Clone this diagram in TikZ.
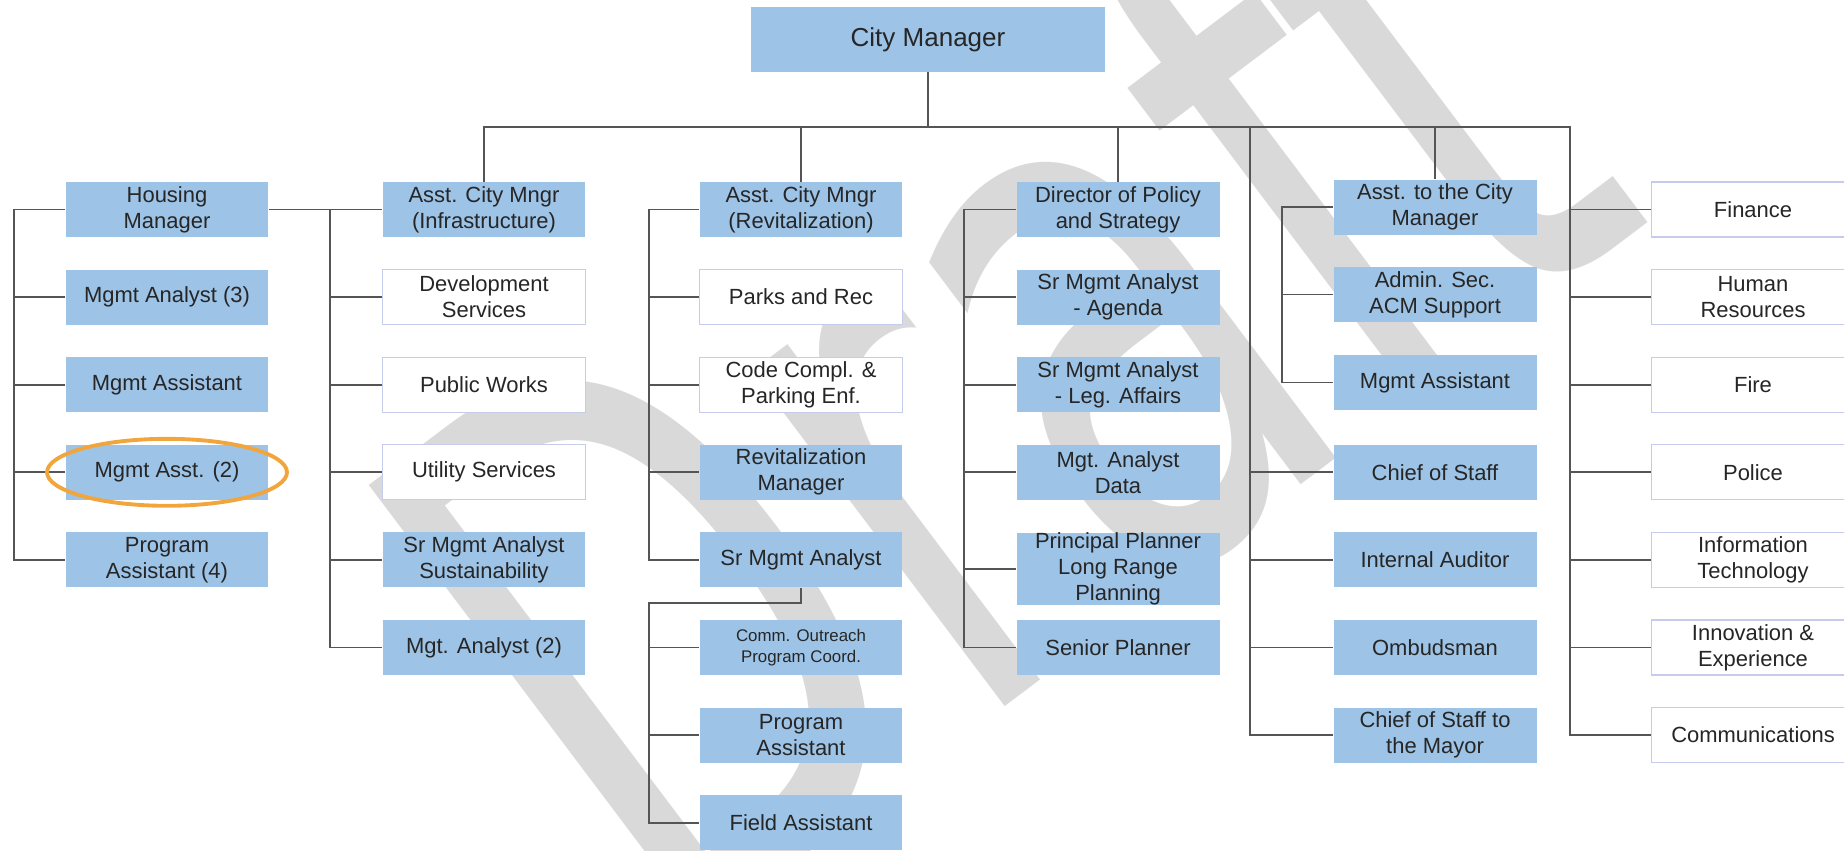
\documentclass[tikz,border=0pt]{standalone}
\usepackage{fontspec}
\setmainfont{Liberation Sans}
\newfontfamily\markfont{DejaVu Sans}
\definecolor{boxblue}{HTML}{9DC3E6}
\definecolor{boxrim}{HTML}{C3CCEA}
\definecolor{wiregray}{HTML}{555555}
\definecolor{ringorange}{HTML}{F0A63C}
\definecolor{markgray}{HTML}{D9D9D9}
\begin{document}
\begin{tikzpicture}[x=0.02cm, y=-0.02cm,
        rolebox/.style={minimum width=4.06cm, minimum height=1.1cm, inner sep=0pt, align=center,
            font=\fontsize{12.5}{14.8}\selectfont, text=black!85},
        bluebox/.style={rolebox, fill=boxblue},
        whitebox/.style={rolebox, fill=white, draw=boxrim, line width=0.7pt},
        wire/.style={draw=wiregray, line width=1pt},
        ring/.style={draw=ringorange, line width=2.2pt},
        draftmark/.style={text=markgray, rotate=37, xscale=0.64, inner sep=0pt,
            font=\markfont\fontsize{437}{437}\selectfont}]
        %% Page
        \fill[white] (0,0) rectangle (1844,850);
        \useasboundingbox (0,0) rectangle (1844,850);
        \node[draftmark] (mark) at (990,360) {Draft};

        %% Top
        \node[bluebox, minimum width=7.08cm, minimum height=1.3cm, font=\fontsize{14.8}{17}\selectfont] (cm) at (928,39.5) {City Manager};
        \coordinate (bus) at (928,127);

        %% Housing
        \node[bluebox] (housing) at (167,209.5) {Housing\\Manager};
        \node[bluebox] (analyst3) at (167,297.1) {Mgmt Analyst (3)};
        \node[bluebox] (assistant1) at (167,384.7) {Mgmt Assistant};
        \node[bluebox] (asst2) at (167,472.3) {Mgmt Asst. (2)};
        \node[bluebox] (progasst4) at (167,559.9) {Program\\Assistant (4)};

        %% Infrastructure
        \node[bluebox] (infra) at (484,209.5) {Asst. City Mngr\\(Infrastructure)};
        \node[whitebox] (devserv) at (484,297.1) {Development\\Services};
        \node[whitebox] (pubworks) at (484,384.7) {Public Works};
        \node[whitebox] (utility) at (484,472.3) {Utility Services};
        \node[bluebox] (sustain) at (484,559.9) {Sr Mgmt Analyst\\Sustainability};
        \node[bluebox] (analyst2) at (484,647.5) {Mgt. Analyst (2)};

        %% Revitalization
        \node[bluebox] (revit) at (801,209.5) {Asst. City Mngr\\(Revitalization)};
        \node[whitebox] (parks) at (801,297.1) {Parks and Rec};
        \node[whitebox] (code) at (801,384.7) {Code Compl. \&\\Parking Enf.};
        \node[bluebox] (revmgr) at (801,472.3) {Revitalization\\Manager};
        \node[bluebox] (srrev) at (801,559.9) {Sr Mgmt Analyst};
        \node[bluebox, font=\fontsize{9.6}{12}\selectfont] (outreach) at (801,647.5) {Comm. Outreach\\Program Coord.};
        \node[bluebox] (progasst) at (801,735.1) {Program\\Assistant};
        \node[bluebox] (field) at (801,822.7) {Field Assistant};

        %% Policy
        \node[bluebox] (policy) at (1118,209.5) {Director of Policy\\and Strategy};
        \node[bluebox] (agenda) at (1118,297.1) {Sr Mgmt Analyst\\- Agenda};
        \node[bluebox] (legaff) at (1118,384.7) {Sr Mgmt Analyst\\- Leg. Affairs};
        \node[bluebox] (data) at (1118,472.3) {Mgt. Analyst\\Data};
        \node[bluebox, minimum height=1.44cm] (planner) at (1118,569) {Principal Planner\\Long Range\\Planning};
        \node[bluebox] (senior) at (1118,647.5) {Senior Planner};

        %% Office
        \node[bluebox] (atcm) at (1435,207) {Asst. to the City\\Manager};
        \node[bluebox] (adminsec) at (1435,294.5) {Admin. Sec.\\ACM Support};
        \node[bluebox] (assistant5) at (1435,382.5) {Mgmt Assistant};
        \node[bluebox] (cos) at (1435,472.3) {Chief of Staff};
        \node[bluebox] (auditor) at (1435,559.9) {Internal Auditor};
        \node[bluebox] (ombuds) at (1435,647.5) {Ombudsman};
        \node[bluebox] (cosmayor) at (1435,735.1) {Chief of Staff to\\the Mayor};

        %% Departments
        \node[whitebox] (finance) at (1753,209.5) {Finance};
        \node[whitebox] (hr) at (1753,297.1) {Human\\Resources};
        \node[whitebox] (fire) at (1753,384.7) {Fire};
        \node[whitebox] (police) at (1753,472.3) {Police};
        \node[whitebox] (it) at (1753,559.9) {Information\\Technology};
        \node[whitebox] (innov) at (1753,647.5) {Innovation \&\\Experience};
        \node[whitebox] (comms) at (1753,735.1) {Communications};

        %% Rails
        \coordinate (leftrail) at (14,209.5);
        \coordinate (infrarail) at (330,209.5);
        \coordinate (revrail) at (649,209.5);
        \coordinate (srrail) at (649,603);
        \coordinate (policyrail) at (964,209.5);
        \coordinate (cosrail) at (1250,127);
        \coordinate (atcmrail) at (1282,207);
        \coordinate (rightrail) at (1570,127);

        %% Lines
        \draw[wire] (cm.south) -- (bus);
        \draw[wire] (infra.north) |- (bus) -- (rightrail) |- (comms.west);
        \draw[wire] (revit.north) -- (revit.north |- bus);
        \draw[wire] (policy.north) -- (policy.north |- bus);
        \draw[wire] (atcm.north) -- (atcm.north |- bus);
        \draw[wire] (cosrail) |- (cosmayor.west);

        \draw[wire] (housing.west) -- (leftrail) |- (progasst4.west);
        \draw[wire] (analyst3.west) -- (analyst3.west -| leftrail);
        \draw[wire] (assistant1.west) -- (assistant1.west -| leftrail);
        \draw[wire] (asst2.west) -- (asst2.west -| leftrail);

        \draw[wire] (housing.east) -- (infra.west);
        \draw[wire] (infrarail) |- (analyst2.west);
        \draw[wire] (devserv.west) -- (devserv.west -| infrarail);
        \draw[wire] (pubworks.west) -- (pubworks.west -| infrarail);
        \draw[wire] (utility.west) -- (utility.west -| infrarail);
        \draw[wire] (sustain.west) -- (sustain.west -| infrarail);

        \draw[wire] (revit.west) -- (revrail) |- (srrev.west);
        \draw[wire] (parks.west) -- (parks.west -| revrail);
        \draw[wire] (code.west) -- (code.west -| revrail);
        \draw[wire] (revmgr.west) -- (revmgr.west -| revrail);
        \draw[wire] (srrev.south) |- (srrail) |- (field.west);
        \draw[wire] (outreach.west) -- (outreach.west -| srrail);
        \draw[wire] (progasst.west) -- (progasst.west -| srrail);

        \draw[wire] (policy.west) -- (policyrail) |- (senior.west);
        \draw[wire] (agenda.west) -- (agenda.west -| policyrail);
        \draw[wire] (legaff.west) -- (legaff.west -| policyrail);
        \draw[wire] (data.west) -- (data.west -| policyrail);
        \draw[wire] (planner.west) -- (planner.west -| policyrail);

        \draw[wire] (atcm.west) -- (atcmrail) |- (assistant5.west);
        \draw[wire] (adminsec.west) -- (adminsec.west -| atcmrail);
        \draw[wire] (cos.west) -- (cos.west -| cosrail);
        \draw[wire] (auditor.west) -- (auditor.west -| cosrail);
        \draw[wire] (ombuds.west) -- (ombuds.west -| cosrail);

        \draw[wire] (finance.west) -- (finance.west -| rightrail);
        \draw[wire] (hr.west) -- (hr.west -| rightrail);
        \draw[wire] (fire.west) -- (fire.west -| rightrail);
        \draw[wire] (police.west) -- (police.west -| rightrail);
        \draw[wire] (it.west) -- (it.west -| rightrail);
        \draw[wire] (innov.west) -- (innov.west -| rightrail);

        %% Mark
        \draw[ring] (asst2.center) ellipse [x radius=2.4cm, y radius=0.67cm];
\end{tikzpicture}
\end{document}
